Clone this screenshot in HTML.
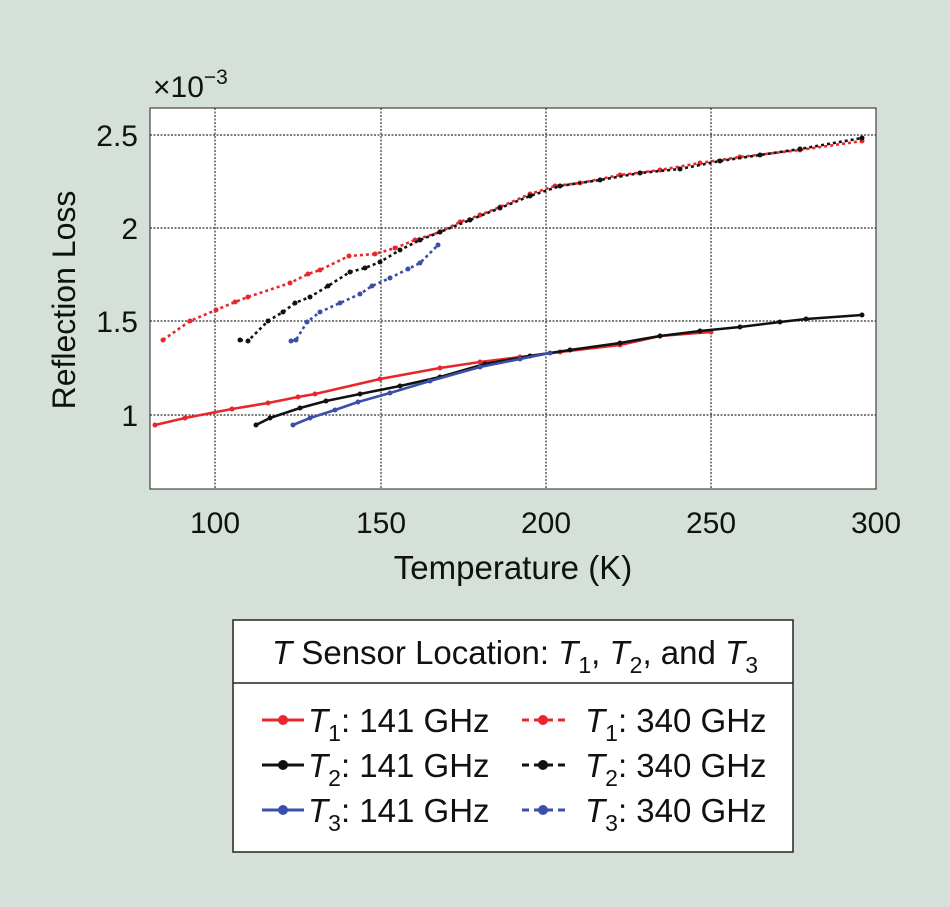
<!DOCTYPE html><html><head><style>body{margin:0;background:#d5e0d9;}svg{display:block}text{font-family:"Liberation Sans",sans-serif;fill:#111}</style></head><body>
<svg width="950" height="907" xmlns="http://www.w3.org/2000/svg">
<defs>
<marker id="mr" viewBox="0 0 6 6" refX="3" refY="3" markerWidth="6" markerHeight="6" markerUnits="userSpaceOnUse"><circle cx="3" cy="3" r="2.5" fill="#e8262b"/></marker>
<marker id="mk" viewBox="0 0 6 6" refX="3" refY="3" markerWidth="6" markerHeight="6" markerUnits="userSpaceOnUse"><circle cx="3" cy="3" r="2.5" fill="#111"/></marker>
<marker id="mb" viewBox="0 0 6 6" refX="3" refY="3" markerWidth="6" markerHeight="6" markerUnits="userSpaceOnUse"><circle cx="3" cy="3" r="2.5" fill="#3a4fa8"/></marker>
</defs>
<rect width="950" height="907" fill="#d5e0d9"/>
<rect x="150" y="108" width="726" height="381" fill="#fff" stroke="#222" stroke-width="1"/>
<g stroke="#333" stroke-width="1.2" stroke-dasharray="2,1.5">
<line x1="215" y1="108" x2="215" y2="489"/><line x1="381" y1="108" x2="381" y2="489"/><line x1="546" y1="108" x2="546" y2="489"/><line x1="711" y1="108" x2="711" y2="489"/>
<line x1="150" y1="135" x2="876" y2="135"/><line x1="150" y1="228" x2="876" y2="228"/><line x1="150" y1="321" x2="876" y2="321"/><line x1="150" y1="415" x2="876" y2="415"/>
</g>
<g font-size="30" text-anchor="end"><text x="138" y="146">2.5</text><text x="138" y="239">2</text><text x="138" y="332">1.5</text><text x="138" y="426">1</text></g>
<g font-size="30" text-anchor="middle"><text x="215" y="533">100</text><text x="381" y="533">150</text><text x="546" y="533">200</text><text x="711" y="533">250</text><text x="876" y="533">300</text></g>
<text x="153" y="97" font-size="30">×10<tspan dy="-13" font-size="21">−3</tspan></text>
<text x="513" y="579" font-size="33" text-anchor="middle">Temperature (K)</text>
<text transform="translate(75,300) rotate(-90)" font-size="32" text-anchor="middle">Reflection Loss</text>
<g fill="none" stroke-width="2.6" stroke-linejoin="round">
<polyline stroke="#e8262b" stroke-dasharray="3,3" marker-start="url(#mr)" marker-mid="url(#mr)" marker-end="url(#mr)" points="163,340 190,321 216,310 235,302 248,297 290,283 308,274 320,270 349,256 375,254 395,248 415,240 440,232 460,222 480,215 500,207 530,194 555,186 580,183 620,175 660,170 700,163 740,157 800,150 862,141"/>
<polyline stroke="#111" stroke-dasharray="3,3" marker-start="url(#mk)" marker-mid="url(#mk)" marker-end="url(#mk)" points="240,340 248,341 268,321 283,312 295,303 310,297 328,286 350,272 365,268 380,262 400,250 420,240 440,232 470,220 500,208 530,196 560,186 600,180 640,173 680,169 720,161 760,155 800,149 862,138"/>
<polyline stroke="#3a4fa8" stroke-dasharray="3,3" marker-start="url(#mb)" marker-mid="url(#mb)" marker-end="url(#mb)" points="291,341 296,340 307,322 320,312 340,303 360,294 372,286 390,278 408,269 420,263 438,245"/>
<polyline stroke="#e8262b" marker-start="url(#mr)" marker-mid="url(#mr)" marker-end="url(#mr)" points="155,425 185,418 232,409 268,403 298,397 315,394 380,379 440,368 480,362 520,357 560,352 620,345 660,336 711,332"/>
<polyline stroke="#111" marker-start="url(#mk)" marker-mid="url(#mk)" marker-end="url(#mk)" points="256,425 270,418 300,408 326,401 360,394 400,386 440,377 485,364 530,356 570,350 620,343 660,336 700,331 740,327 780,322 806,319 862,315"/>
<polyline stroke="#3a4fa8" marker-start="url(#mb)" marker-mid="url(#mb)" marker-end="url(#mb)" points="293,425 310,418 335,410 358,402 390,393 430,381 480,367 520,359 550,353"/>
</g>
<rect x="233" y="620" width="560" height="232" fill="#fff" stroke="#222" stroke-width="1.5"/>
<line x1="233" y1="683" x2="793" y2="683" stroke="#222" stroke-width="1.5"/>
<text x="515" y="664" font-size="33" text-anchor="middle"><tspan font-style="italic">T</tspan> Sensor Location: <tspan font-style="italic">T</tspan><tspan font-size="23" dy="9">1</tspan><tspan dy="-9">, </tspan><tspan font-style="italic">T</tspan><tspan font-size="23" dy="9">2</tspan><tspan dy="-9">, and </tspan><tspan font-style="italic">T</tspan><tspan font-size="23" dy="9">3</tspan></text>
<g stroke-width="3">
<line x1="262" y1="720" x2="304" y2="720" stroke="#e8262b"/><circle cx="283" cy="720" r="5" fill="#e8262b"/>
<line x1="262" y1="765" x2="304" y2="765" stroke="#111"/><circle cx="283" cy="765" r="5" fill="#111"/>
<line x1="262" y1="810" x2="304" y2="810" stroke="#3a4fa8"/><circle cx="283" cy="810" r="5" fill="#3a4fa8"/>
<line x1="522" y1="720" x2="565" y2="720" stroke="#e8262b" stroke-dasharray="7,5"/><circle cx="543" cy="720" r="5" fill="#e8262b"/>
<line x1="522" y1="765" x2="565" y2="765" stroke="#111" stroke-dasharray="7,5"/><circle cx="543" cy="765" r="5" fill="#111"/>
<line x1="522" y1="810" x2="565" y2="810" stroke="#3a4fa8" stroke-dasharray="7,5"/><circle cx="543" cy="810" r="5" fill="#3a4fa8"/>
</g>
<g font-size="33">
<text x="308" y="732"><tspan font-style="italic">T</tspan><tspan font-size="23" dy="9">1</tspan><tspan dy="-9">: 141 GHz</tspan></text>
<text x="308" y="777"><tspan font-style="italic">T</tspan><tspan font-size="23" dy="9">2</tspan><tspan dy="-9">: 141 GHz</tspan></text>
<text x="308" y="822"><tspan font-style="italic">T</tspan><tspan font-size="23" dy="9">3</tspan><tspan dy="-9">: 141 GHz</tspan></text>
<text x="585" y="732"><tspan font-style="italic">T</tspan><tspan font-size="23" dy="9">1</tspan><tspan dy="-9">: 340 GHz</tspan></text>
<text x="585" y="777"><tspan font-style="italic">T</tspan><tspan font-size="23" dy="9">2</tspan><tspan dy="-9">: 340 GHz</tspan></text>
<text x="585" y="822"><tspan font-style="italic">T</tspan><tspan font-size="23" dy="9">3</tspan><tspan dy="-9">: 340 GHz</tspan></text>
</g>
</svg></body></html>
